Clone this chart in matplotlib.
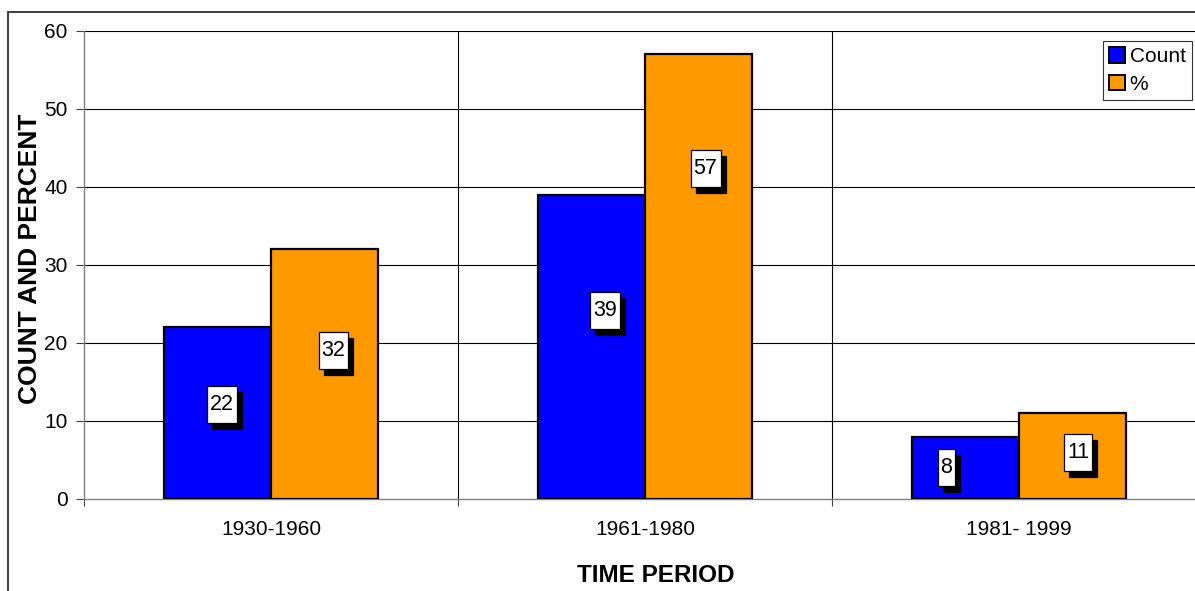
import matplotlib
matplotlib.use("Agg")
import matplotlib.pyplot as plt
from matplotlib.patches import Rectangle
import numpy as np

plt.rcParams['font.family'] = ['Liberation Sans', 'DejaVu Sans']

# Data
periods = ["1930-1960", "1961-1980", "1981- 1999"]
count_vals = [22, 39, 8]
pct_vals = [32, 57, 11]
series_names = ["Count", "%"]
y_ticks = [0, 10, 20, 30, 40, 50, 60]

# Layout of the value tags: (horizontal nudge from bar centre, height in data units)
count_tag_pos = [(0.012, 12.1), (0.037, 24.2), (-0.051, 4.0)]
pct_tag_pos = [(0.024, 19.1), (0.019, 42.4), (0.015, 5.9)]

W, H = 1195, 591
fig = plt.figure(figsize=(W / 100, H / 100), dpi=100)
fig.patch.set_facecolor("white")

# Outer chart frame
fig.add_artist(Rectangle((8 / W, -0.1), 1.2, 1 - 12 / H + 0.1,
                         transform=fig.transFigure, fill=False,
                         edgecolor="#303030", linewidth=1.3))

ax = fig.add_axes([84 / W, (H - 499) / H, 1122 / W, 468 / H])
ax.set_facecolor("none")

x = np.arange(len(periods))
bw = 0.286
c_blue = "#0000FF"
c_orange = "#FF9900"

ax.bar(x - bw / 2, count_vals, width=bw, color=c_blue, edgecolor="black",
       linewidth=1.6, zorder=3, label=series_names[0])
ax.bar(x + bw / 2, pct_vals, width=bw, color=c_orange, edgecolor="black",
       linewidth=1.6, zorder=3, label=series_names[1])

ax.set_xlim(-0.5, 2.5)
ax.set_ylim(0, 60)

# Horizontal gridlines and category separators
for yv in y_ticks[1:]:
    ax.axhline(yv, color="black", linewidth=0.8, zorder=1)
for xv in [0.5, 1.5]:
    ax.axvline(xv, color="black", linewidth=0.8, zorder=1)

for side in ["top", "right"]:
    ax.spines[side].set_visible(False)
ax.spines["left"].set_color("#808080")
ax.spines["bottom"].set_color("#808080")
ax.spines["left"].set_linewidth(1.0)
ax.spines["bottom"].set_linewidth(1.0)

ax.set_yticks(y_ticks)
ax.tick_params(axis="y", direction="out", length=5.8, width=0.8, color="#404040",
               labelsize=15, pad=6.0)
ax.set_xticks(x)
ax.set_xticklabels(periods)
ax.tick_params(axis="x", which="major", length=0, labelsize=15, pad=15)
ax.set_xticks([-0.5, 0.5, 1.5, 2.5], minor=True)
ax.tick_params(axis="x", which="minor", direction="out", length=5, width=0.8,
               color="#404040")

# Value tags (text first, boxes sized around it afterwards)
tags = []
for i, v in enumerate(count_vals):
    dx, yy = count_tag_pos[i]
    tags.append(ax.text(x[i] - bw / 2 + dx, yy, str(v), ha="center",
                        va="center", fontsize=15.5, color="black", zorder=6))
for i, v in enumerate(pct_vals):
    dx, yy = pct_tag_pos[i]
    tags.append(ax.text(x[i] + bw / 2 + dx, yy, str(v), ha="center",
                        va="center", fontsize=15.5, color="black", zorder=6))

# Axis titles
fig.text(30 / W, 1 - 259 / H, "COUNT AND PERCENT", rotation=90, ha="center",
         va="center", fontsize=19, fontweight="bold")
fig.text(656 / W, 1 - 576 / H, "TIME PERIOD", ha="center", va="center",
         fontsize=17.5, fontweight="bold")

# Legend
leg = fig.legend(loc="upper right", bbox_to_anchor=(1192 / W, 1 - 41 / H),
                 bbox_transform=fig.transFigure, fontsize=15, frameon=True,
                 fancybox=False, shadow=False, handlelength=0.75,
                 handleheight=0.75, handletextpad=0.25, borderpad=0.3,
                 labelspacing=0.4, borderaxespad=0)
leg.get_frame().set_edgecolor("black")
leg.get_frame().set_linewidth(0.8)
for hnd in leg.legend_handles:
    hnd.set_linewidth(1.4)

# Boxes with drop shadow around each value tag
fig.canvas.draw()
inv = fig.transFigure.inverted()
for t in tags:
    bb = t.get_window_extent()
    cx = (bb.x0 + bb.x1) / 2
    cy = (bb.y0 + bb.y1) / 2
    bwid = bb.width + 6
    bhgt = 37
    for (ox, oy, fc, z) in [(5, -6, "black", 4), (0, 0, "white", 5)]:
        (fx0, fy0) = inv.transform((cx - bwid / 2 + ox, cy - bhgt / 2 + oy))
        (fx1, fy1) = inv.transform((cx + bwid / 2 + ox, cy + bhgt / 2 + oy))
        fig.add_artist(Rectangle((fx0, fy0), fx1 - fx0, fy1 - fy0,
                                 transform=fig.transFigure, facecolor=fc,
                                 edgecolor="black", linewidth=0.9, zorder=z))
    t.remove()
    fig.text((inv.transform((cx, cy)))[0], (inv.transform((cx, cy)))[1],
             t.get_text(), ha="center", va="center", fontsize=15.5,
             color="black", zorder=6)

fig.savefig("out.png", dpi=100)
